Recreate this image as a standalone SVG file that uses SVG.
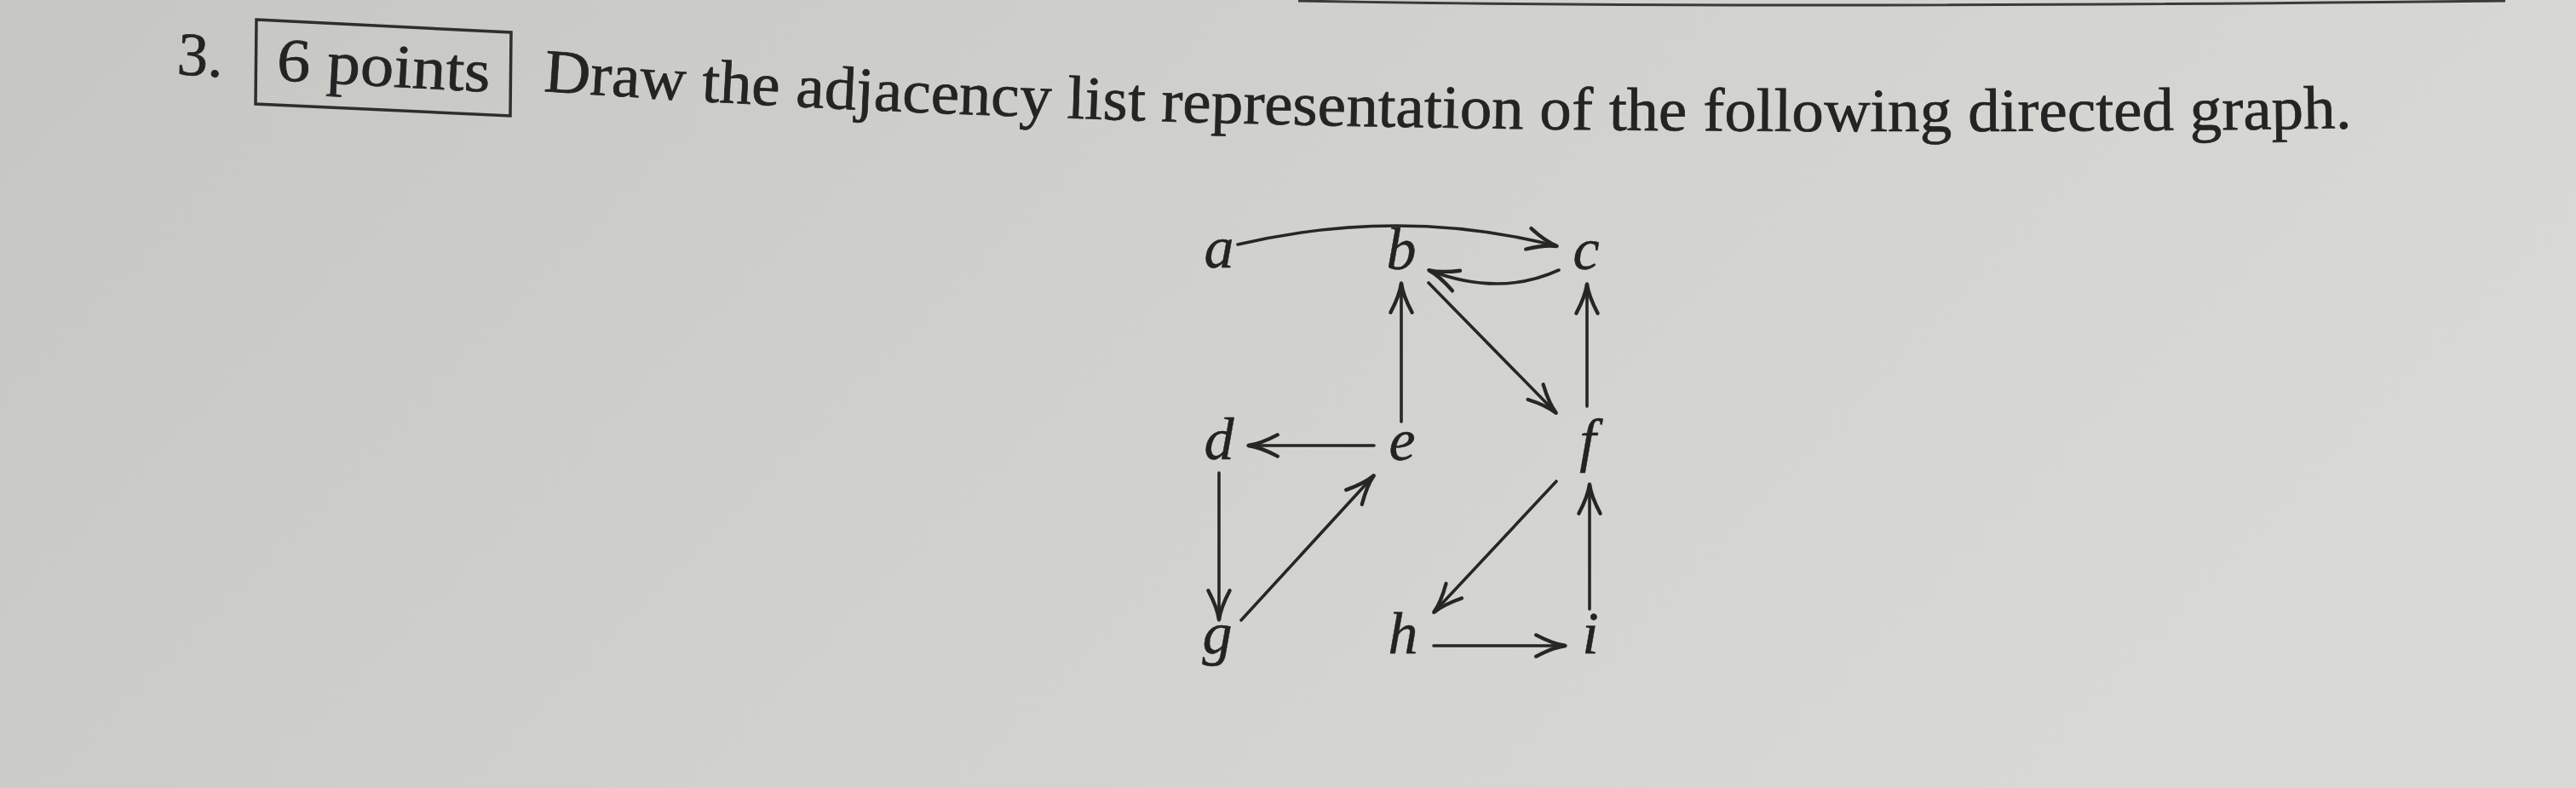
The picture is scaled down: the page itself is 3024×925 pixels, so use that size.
<svg xmlns="http://www.w3.org/2000/svg" width="3024" height="925" viewBox="0 0 3024 925">
  <defs>
    <linearGradient id="paper" x1="0" y1="0" x2="1" y2="0.3">
      <stop offset="0" stop-color="#c6c7c3"/>
      <stop offset="0.5" stop-color="#d0d1cd"/>
      <stop offset="1" stop-color="#d8d9d5"/>
    </linearGradient>
    <marker id="arr" markerUnits="userSpaceOnUse" orient="auto" refX="0" refY="0" markerWidth="60" markerHeight="60" viewBox="-40 -20 50 40" overflow="visible">
      <path d="M -29 -10.5 Q -12 -1.5 0 0 Q -12 1.5 -29 10.5" fill="none" stroke="#262626" stroke-width="3.6" stroke-linecap="round"/>
    </marker>
    <path id="titlePath" d="M 638 107 Q 1500 168 2790 150"/>
    <style>
      .txt { font-family: "Liberation Serif", "DejaVu Serif", serif; fill: #242424; stroke: #242424; stroke-width: 0.7; }
      .lbl { font-family: "Liberation Serif", "DejaVu Serif", serif; font-style: italic; font-size: 70px; fill: #232323; stroke: #232323; stroke-width: 0.5; text-anchor: middle; }
      .edge { fill: none; stroke: #262626; stroke-width: 3.6; stroke-linecap: round; marker-end: url(#arr); }
    </style>
  </defs>

  <rect x="0" y="0" width="3024" height="925" fill="url(#paper)"/>
  <path d="M 1524 1 Q 2050 11 2941 1" fill="none" stroke="#3a3a3a" stroke-width="3"/>

  <g id="header">
    <text class="txt" x="207" y="87" font-size="72" transform="rotate(3.6 207 87)">3.</text>
    <polygon points="301,23 600,38 599,136 300,122" fill="none" stroke="#2e2e2e" stroke-width="3.5"/>
    <text class="txt" x="324" y="94" font-size="72" textLength="251" lengthAdjust="spacingAndGlyphs" transform="rotate(3.2 324 94)">6 points</text>
    <text class="txt" font-size="72"><textPath href="#titlePath" textLength="2124" lengthAdjust="spacingAndGlyphs">Draw the adjacency list representation of the following directed graph.</textPath></text>
  </g>

  <g id="node-a"><text class="lbl" x="1431" y="314">a</text></g>
  <g id="node-b"><text class="lbl" x="1645" y="316">b</text></g>
  <g id="node-c"><text class="lbl" x="1862" y="316">c</text></g>
  <g id="node-d"><text class="lbl" x="1431" y="539">d</text></g>
  <g id="node-e"><text class="lbl" x="1646" y="540">e</text></g>
  <g id="node-f"><text class="lbl" x="1864" y="540">f</text></g>
  <g id="node-g"><text class="lbl" x="1429" y="767">g</text></g>
  <g id="node-h"><text class="lbl" x="1647" y="767">h</text></g>
  <g id="node-i"><text class="lbl" x="1867" y="767">i</text></g>

  <g id="connectors">
    <path class="edge" d="M 1453 287 Q 1646 242 1828 289"/>
    <path class="edge" d="M 1830 317 Q 1760 349 1677 317"/>
    <path class="edge" d="M 1645 495 L 1645 332"/>
    <path class="edge" d="M 1677 332 L 1827 485"/>
    <path class="edge" d="M 1863 477 L 1863 333"/>
    <path class="edge" d="M 1613 523 L 1465 523"/>
    <path class="edge" d="M 1431 555 L 1431 728"/>
    <path class="edge" d="M 1457 728 L 1613 558"/>
    <path class="edge" d="M 1827 565 L 1683 719"/>
    <path class="edge" d="M 1683 758 L 1838 758"/>
    <path class="edge" d="M 1866 715 L 1866 568"/>
  </g>
</svg>
